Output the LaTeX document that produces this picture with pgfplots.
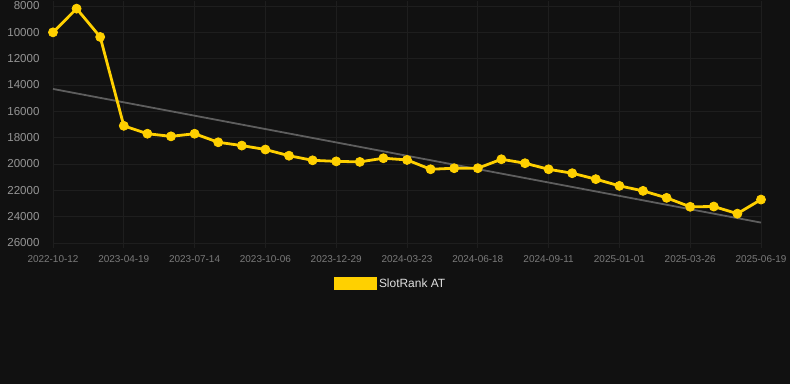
\documentclass[border=0pt]{standalone}
\usepackage{pgfplots}
\pgfplotsset{compat=1.18}
\usepackage{fontspec}
\setmainfont{Liberation Sans}
\definecolor{bgc}{HTML}{111111}
\definecolor{ycol}{HTML}{FFD000}
\definecolor{gridc}{HTML}{1E1E1E}
\definecolor{trendc}{HTML}{5E5E5E}
\definecolor{ylab}{HTML}{969696}
\definecolor{xlab}{HTML}{7A7A7A}
\begin{document}
\begin{tikzpicture}
\fill[bgc] (-53bp,-141bp) rectangle (737bp,243bp);
\useasboundingbox (-53bp,-141bp) rectangle (737bp,243bp);
\begin{axis}[
  scale only axis,
  width=708bp, height=237bp,
  xmin=0, xmax=30,
  ymin=8000, ymax=26000,
  y dir=reverse,
  scaled y ticks=false,
  ytick={8000,10000,...,26000},
  xtick={0,3,...,30},
  xticklabels={2022-10-12,2023-04-19,2023-07-14,2023-10-06,2023-12-29,2024-03-23,2024-06-18,2024-09-11,2025-01-01,2025-03-26,2025-06-19},
  /pgf/number format/assume math mode=true,
  /pgf/number format/1000 sep={},
  yticklabel style={font=\fontsize{11.6}{14}\selectfont, text=ylab, xshift=-5bp, /pgf/number format/fixed},
  xticklabel style={font=\fontsize{10}{12}\selectfont, text=xlab, yshift=-4bp},
  grid=major,
  grid style={gridc, line width=0.8bp},
  axis line style={draw=none},
  ytick style={draw=none},
  xtick style={gridc, line width=0.8bp},
  tick align=outside,
  major tick length=5bp,
  clip=false,
  legend style={at={(0.477,-0.173)}, anchor=center, draw=none, fill=none,
    font=\fontsize{12}{14}\selectfont, text=white!88!black,
    legend cell align=left, inner sep=0pt},
  legend image code/.code={\fill[ycol] (0bp,-5bp) rectangle (40bp,5.5bp);},
]
\addplot[trendc, line width=1.8bp, forget plot] coordinates {(0,14300) (30,24450)};
\addplot[ycol, line width=2.8bp, mark=*, mark size=4.5bp, mark options={fill=ycol, draw=ycol, line width=0.8bp}] coordinates {
(0,10000) (1,8200) (2,10350) (3,17100) (4,17700) (5,17900) (6,17700) (7,18350)
(8,18600) (9,18900) (10,19370) (11,19720) (12,19800) (13,19840) (14,19560)
(15,19690) (16,20400) (17,20320) (18,20320) (19,19640) (20,19940) (21,20400)
(22,20700) (23,21150) (24,21660) (25,22040) (26,22570) (27,23250) (28,23230)
(29,23770) (30,22700)};
\addlegendentry{SlotRank AT}
\end{axis}
\end{tikzpicture}
\end{document}
